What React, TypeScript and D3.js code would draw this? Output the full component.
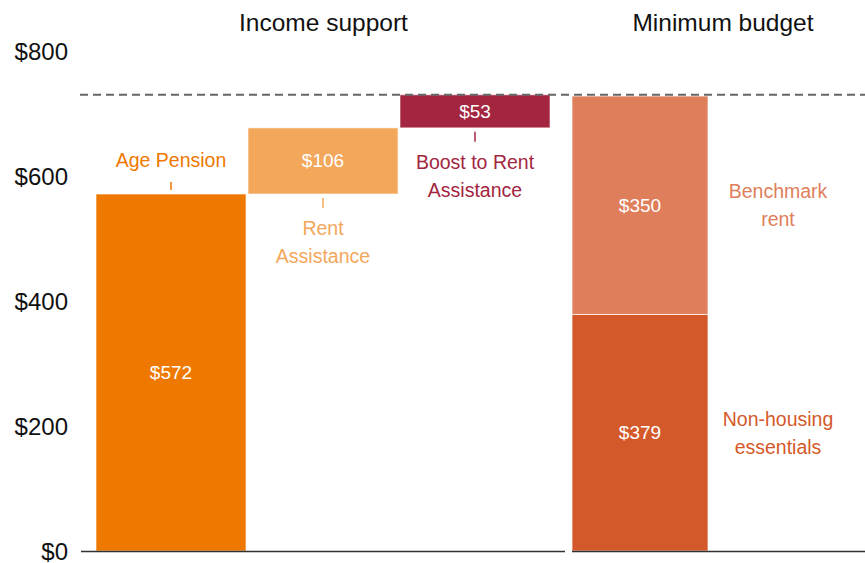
import React from "react";
import * as d3 from "d3";

const incomeCategories = ["Age Pension", "Rent Assistance", "Boost to Rent Assistance"];
const incomeValues = [572, 106, 53];
const incomeLabelLines = [["Age Pension"], ["Rent", "Assistance"], ["Boost to Rent", "Assistance"]];
const incomeColors = ["#EE7800", "#F3A75B", "#A3253F"];
const incomeTextColors = ["#EE7800", "#F3A75B", "#A3253F"];

const budgetCategories = ["Non-housing essentials", "Benchmark rent"];
const budgetValues = [379, 350];
const budgetLabelLines = [["Non-housing", "essentials"], ["Benchmark", "rent"]];
const budgetColors = ["#D4592A", "#DF7E5B"];

const yTicks = [0, 200, 400, 600, 800];
const groupTitles = ["Income support", "Minimum budget"];
const referenceTotal = 731;

const W = 865;
const H = 563;
const FONT = "'Liberation Sans', Arial, Helvetica, sans-serif";

export default function App() {
  const y = d3.scaleLinear().domain([0, 800]).range([551, 551 - 800 * 0.6241]);
  const xIncome = d3.scaleBand<string>().domain(incomeCategories).range([96, 552]).padding(0);
  const xBudget = d3.scaleBand<string>().domain(["Minimum budget"]).range([572, 708]).padding(0);

  const starts: number[] = [];
  let acc = 0;
  incomeValues.forEach((v) => {
    starts.push(acc);
    acc += v;
  });

  const bStarts: number[] = [];
  let bacc = 0;
  budgetValues.forEach((v) => {
    bStarts.push(bacc);
    bacc += v;
  });

  const fmt = (v: number) => "$" + d3.format(",")(v);
  const lineH = 28;

  return (
    <svg
      width={W}
      height={H}
      style={{ position: "absolute", left: 0, top: 0, background: "#fff" }}
      fontFamily={FONT}
    >
      {/* y tick labels */}
      {yTicks.map((t) => (
        <text key={t} x={68} y={y(t) + 8.5} textAnchor="end" fontSize={24} fill="#111">
          {"$" + t}
        </text>
      ))}

      {/* titles */}
      <text x={323.5} y={30.5} textAnchor="middle" fontSize={24.5} fill="#111">
        {groupTitles[0]}
      </text>
      <text x={723} y={30.5} textAnchor="middle" fontSize={24.5} fill="#111">
        {groupTitles[1]}
      </text>

      {/* income bars */}
      {incomeCategories.map((c, i) => {
        const x0 = xIncome(c)!;
        const w = xIncome.bandwidth() - 2;
        const top = y(starts[i] + incomeValues[i]);
        const bot = y(starts[i]);
        const cx = x0 + w / 2;
        return (
          <g key={c}>
            <rect
              x={x0}
              y={top}
              width={w}
              height={bot - top}
              fill={incomeColors[i]}
              stroke="rgba(255,255,255,0.6)"
              strokeWidth={1}
            />
            <text
              x={cx}
              y={(top + bot) / 2 + 6.5}
              textAnchor="middle"
              fontSize={19}
              fill="#fff"
            >
              {fmt(incomeValues[i])}
            </text>
          </g>
        );
      })}

      {/* income labels: first above its bar, others below */}
      {incomeCategories.map((c, i) => {
        const x0 = xIncome(c)!;
        const w = xIncome.bandwidth() - 2;
        const cx = x0 + w / 2;
        const lines = incomeLabelLines[i];
        const col = incomeTextColors[i];
        if (i === 0) {
          const top = y(starts[i] + incomeValues[i]);
          return (
            <g key={c}>
              <line x1={cx} x2={cx} y1={top - 12} y2={top - 4} stroke={col} strokeWidth={1.5} />
              <text x={cx} y={top - 27} textAnchor="middle" fontSize={19.5} fill={col}>
                {lines[0]}
              </text>
            </g>
          );
        }
        const bot = y(starts[i]);
        return (
          <g key={c}>
            <line x1={cx} x2={cx} y1={bot + 4} y2={bot + 14} stroke={col} strokeWidth={1.5} />
            {lines.map((l, k) => (
              <text
                key={k}
                x={cx}
                y={bot + 41 + k * lineH}
                textAnchor="middle"
                fontSize={19.5}
                fill={col}
              >
                {l}
              </text>
            ))}
          </g>
        );
      })}

      {/* budget bars */}
      {budgetCategories.map((c, i) => {
        const x0 = xBudget("Minimum budget")!;
        const w = xBudget.bandwidth();
        const top = y(bStarts[i] + budgetValues[i]);
        const bot = y(bStarts[i]);
        const cy = (top + bot) / 2;
        const lines = budgetLabelLines[i];
        return (
          <g key={c}>
            <rect
              x={x0}
              y={top}
              width={w}
              height={bot - top}
              fill={budgetColors[i]}
              stroke="rgba(255,255,255,0.7)"
              strokeWidth={1}
            />
            <text x={x0 + w / 2} y={cy + 6.5} textAnchor="middle" fontSize={19} fill="#fff">
              {fmt(budgetValues[i])}
            </text>
            {lines.map((l, k) => (
              <text
                key={k}
                x={x0 + w + 70}
                y={cy - 6 + k * lineH - ((lines.length - 1) * lineH) / 2 + 13}
                textAnchor="middle"
                fontSize={19.5}
                fill={budgetColors[i]}
              >
                {l}
              </text>
            ))}
          </g>
        );
      })}

      {/* dashed reference line */}
      <line
        x1={80}
        x2={W}
        y1={y(referenceTotal)}
        y2={y(referenceTotal)}
        stroke="#666"
        strokeWidth={2}
        strokeDasharray="8,5"
      />

      {/* baselines */}
      <line x1={81} x2={565} y1={y(0) + 0.5} y2={y(0) + 0.5} stroke="#333" strokeWidth={1.5} />
      <line x1={572} x2={W} y1={y(0) + 0.5} y2={y(0) + 0.5} stroke="#333" strokeWidth={1.5} />
    </svg>
  );
}
